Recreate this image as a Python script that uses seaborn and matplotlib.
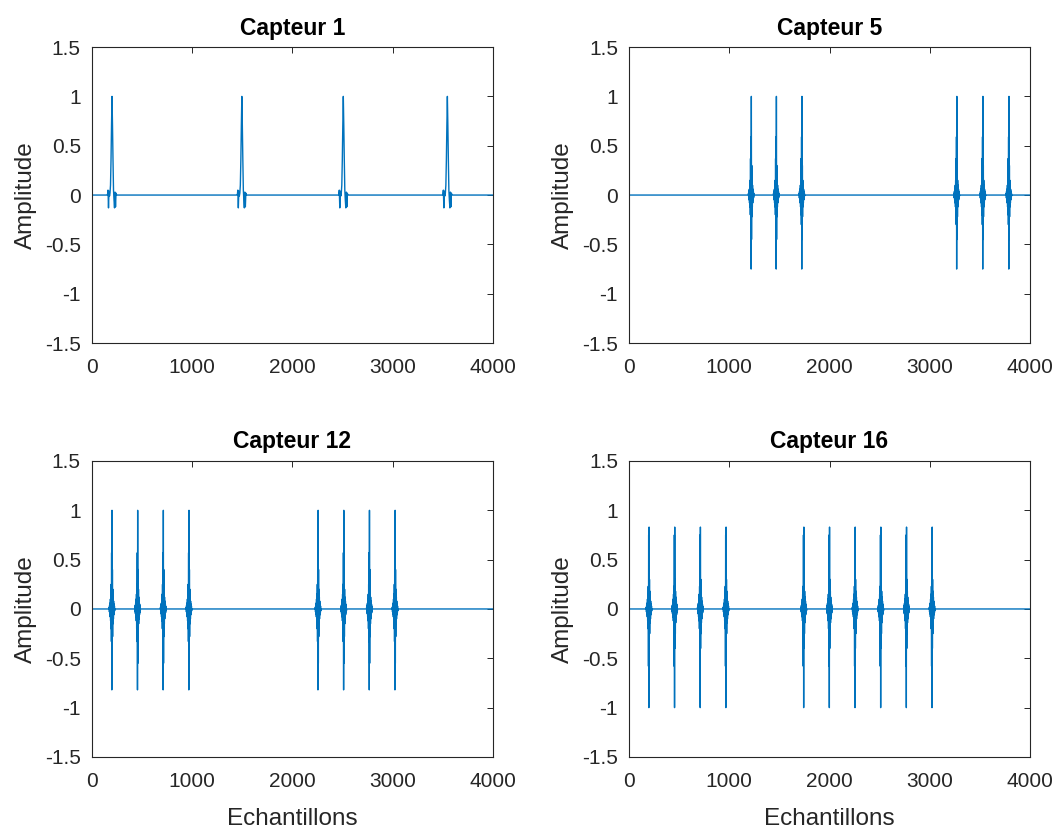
import numpy as np
import pandas as pd
import matplotlib
matplotlib.use("Agg")
import matplotlib.pyplot as plt
import seaborn as sns

# -----------------------------------------------
# DONNEES
# -----------------------------------------------

N_ECH = 4000

# positions des impulsions (echantillons)
pos_c1 = [205, 1500, 2512, 3550]
pos_c5 = [1220, 1470, 1725, 3270, 3530, 3790]
pos_c12 = [200, 456, 712, 968, 2256, 2512, 2768, 3024]
pos_c16 = [200, 456, 712, 968, 1744, 2000, 2256, 2512, 2768, 3024]

# forme des impulsions (amplitudes successives)
forme_c1 = [0.0, 0.05, -0.13, 0.04, -0.01, 0.02, 0.1, 0.35, 0.7, 1.0, 0.7,
            0.35, 0.05, -0.05, -0.13, 0.03, -0.12, 0.02, 0.0, 0.0, 0.0]
forme_c5 = [0.02, -0.03, 0.04, -0.05, 0.06, -0.08, 0.1, -0.12, 0.15, -0.2,
            0.37, -0.3, 0.59, -0.75, 1.0, -0.45, 0.3, -0.22, 0.15, -0.12,
            0.1, -0.08, 0.06, -0.05, 0.04, -0.03, 0.02, -0.01]
forme_c12 = [0.02, -0.03, 0.04, -0.05, 0.06, -0.08, 0.1, -0.12, 0.15, -0.2,
             0.25, -0.33, 0.57, -0.82, 1.0, -0.55, 0.4, -0.28, 0.2, -0.15,
             0.12, -0.1, 0.08, -0.06, 0.05, -0.04, 0.03, -0.02]
forme_c16 = [0.02, -0.03, 0.04, -0.05, 0.06, -0.08, 0.1, -0.12, 0.15, -0.2,
             0.23, -0.58, 0.75, -1.0, 0.83, -0.4, 0.3, -0.25, 0.18, -0.14,
             0.12, -0.1, 0.08, -0.06, 0.05, -0.04, 0.03, -0.02]

titres = ["Capteur 1", "Capteur 5", "Capteur 12", "Capteur 16"]
yticks = [-1.5, -1, -0.5, 0, 0.5, 1, 1.5]
yticklabels = ["-1.5", "-1", "-0.5", "0", "0.5", "1", "1.5"]
xticks = [0, 1000, 2000, 3000, 4000]


def construit_signal(positions, forme, pas=2):
    # ligne de base a zero, impulsions echantillonnees tous les `pas`
    xs, ys = [0], [0.0]
    demi = len(forme) // 2
    for p in positions:
        xs.append(p - (demi + 1) * pas)
        ys.append(0.0)
        for k, v in enumerate(forme):
            xs.append(p + (k - demi) * pas)
            ys.append(v)
        xs.append(p + (len(forme) - demi) * pas)
        ys.append(0.0)
    xs.append(N_ECH)
    ys.append(0.0)
    return pd.DataFrame({"ech": xs, "amp": ys})


signaux = [
    construit_signal(pos_c1, forme_c1, pas=5),
    construit_signal(pos_c5, forme_c5),
    construit_signal(pos_c12, forme_c12),
    construit_signal(pos_c16, forme_c16),
]

# -----------------------------------------------
# FIGURE
# -----------------------------------------------

sns.set_style("white")
plt.rcParams["font.family"] = ["Liberation Sans", "DejaVu Sans"]
GRIS = "#262626"
BLEU = "#0072BD"

fig = plt.figure(figsize=(10.57, 8.3), dpi=100)

positions_axes = [
    [0.087, 0.5867, 0.3794, 0.3566],
    [0.5951, 0.5867, 0.3794, 0.3566],
    [0.087, 0.0880, 0.3794, 0.3566],
    [0.5951, 0.0880, 0.3794, 0.3566],
]

for i, (titre, df) in enumerate(zip(titres, signaux)):
    ax = fig.add_axes(positions_axes[i])
    sns.lineplot(data=df, x="ech", y="amp", ax=ax, color=BLEU,
                 linewidth=1.0, estimator=None, sort=False)
    ax.set_xlim(0, 4000)
    ax.set_ylim(-1.5, 1.5)
    ax.set_xticks(xticks)
    ax.set_xticklabels([str(t) for t in xticks])
    ax.set_yticks(yticks)
    ax.set_yticklabels(yticklabels)
    ax.tick_params(direction="in", top=True, right=True, length=4,
                   width=0.7, colors=GRIS, labelsize=15)
    ax.tick_params(axis="x", pad=11)
    ax.tick_params(axis="y", pad=8)
    for s in ax.spines.values():
        s.set_visible(True)
        s.set_color(GRIS)
        s.set_linewidth(0.8)
    ax.set_title(titre, fontsize=16.5, fontweight="bold", color="black", pad=9)
    ax.set_ylabel("Amplitude", fontsize=17.5, color=GRIS, labelpad=6)
    if i >= 2:
        ax.set_xlabel("Echantillons", fontsize=17.5, color=GRIS, labelpad=12)
    else:
        ax.set_xlabel("")

fig.savefig("out.png", dpi=100)
